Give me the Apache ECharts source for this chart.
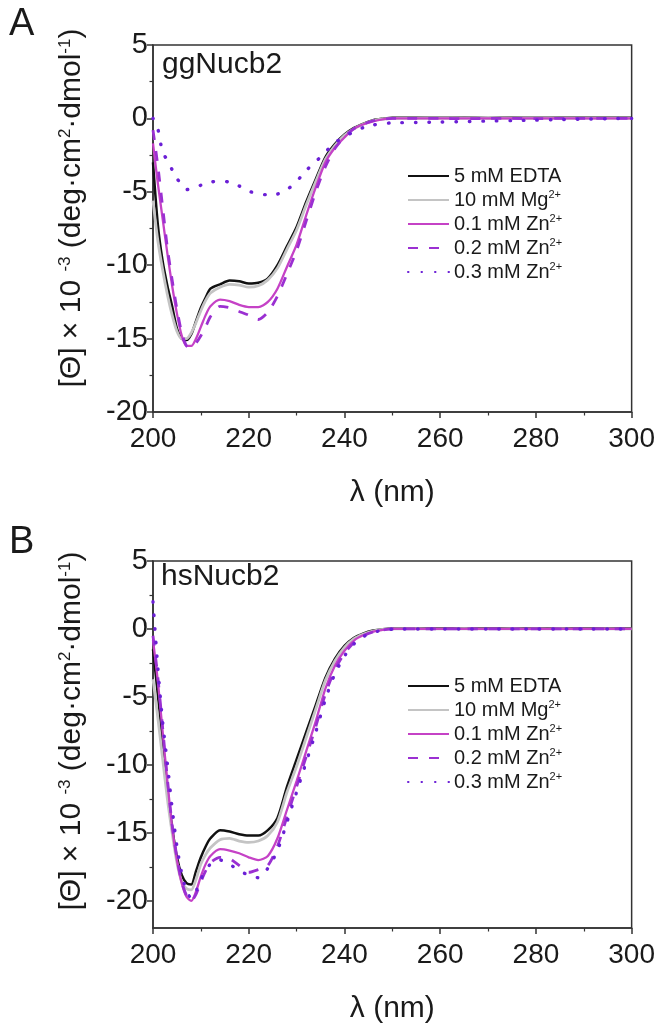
<!DOCTYPE html>
<html>
<head>
<meta charset="utf-8">
<script src="https://cdn.jsdelivr.net/npm/echarts@6/dist/echarts.min.js"></script>
<style>
html,body{margin:0;padding:0;background:#fff;}
#chart{width:658px;height:1025px;}
</style>
</head>
<body>
<div id="chart"></div>
<script>
// Wavelengths (nm)
const WL = [200,201,202,203,204,205,206,207,208,209,210,211,212,
  214,216,218,220,222,224,226,228,230,232,234,236,238,240,242,244,246,248,250,
  255,260,265,270,275,280,285,290,295,300];

const SERIES_NAMES = ['5 mM EDTA','10 mM Mg2+','0.1 mM Zn2+','0.2 mM Zn2+','0.3 mM Zn2+'];
const LEGEND_LABELS = ['5 mM EDTA','10 mM Mg{sup|2+}','0.1 mM Zn{sup|2+}','0.2 mM Zn{sup|2+}','0.3 mM Zn{sup|2+}'];
const X_TICKS = [200,220,240,260,280,300];
const Y_TICKS = [5,0,-5,-10,-15,-20];

// Panel A: ggNucb2
const A_EDTA = [-3.0,-7.2,-9.7,-11.4,-12.8,-14.3,-15.0,-15.1,-14.7,-13.8,-12.9,-12.2,-11.6,
  -11.3,-11.05,-11.1,-11.25,-11.2,-10.9,-10.0,-8.7,-7.4,-5.7,-4.15,-2.65,-1.75,-1.1,-0.65,-0.35,-0.12,-0.02,0.05,
  0.05,0.04,0.05,0.03,0.05,0.04,0.05,0.04,0.05,0.05];
const A_MG = [-5.6,-8.3,-10.3,-12.0,-13.4,-14.5,-15.0,-15.0,-14.6,-13.9,-13.1,-12.4,-11.9,
  -11.5,-11.3,-11.35,-11.5,-11.4,-11.0,-10.2,-8.9,-7.6,-5.9,-4.3,-2.8,-1.85,-1.15,-0.7,-0.38,-0.15,-0.04,0.0,
  0.0,0.02,0.0,0.02,0.0,0.02,0.0,0.0,0.0,0.0];
const A_ZN01 = [-1.7,-4.4,-6.8,-9.2,-11.4,-13.3,-14.8,-15.5,-15.5,-15.0,-14.2,-13.4,-12.8,
  -12.35,-12.45,-12.7,-12.85,-12.85,-12.5,-11.6,-10.1,-8.6,-6.6,-4.7,-3.0,-2.0,-1.3,-0.7,-0.4,-0.2,-0.07,0.0,
  0.0,0.0,0.0,0.0,0.0,0.0,0.0,0.0,0.0,0.0];
const A_ZN02 = [-0.8,-3.2,-6.0,-8.8,-11.0,-13.0,-14.6,-15.5,-15.6,-15.3,-14.8,-14.2,-13.5,
  -12.8,-12.9,-13.15,-13.4,-13.7,-13.2,-12.1,-10.6,-9.0,-7.0,-5.0,-3.3,-2.05,-1.25,-0.7,-0.38,-0.16,-0.05,0.0,
  0.0,0.0,-0.02,0.0,0.0,-0.02,0.0,0.0,0.0,0.0];
const A_ZN03 = [0.0,-0.7,-2.3,-2.85,-3.5,-4.1,-4.5,-4.85,-4.8,-4.7,-4.55,-4.45,-4.35,
  -4.25,-4.35,-4.6,-4.95,-5.15,-5.2,-5.15,-4.85,-4.3,-3.55,-2.95,-2.3,-1.65,-1.25,-0.9,-0.62,-0.45,-0.36,-0.3,
  -0.28,-0.25,-0.22,-0.18,-0.15,-0.12,-0.08,-0.05,-0.02,0.0];

// Panel B: hsNucb2
const B_EDTA = [-1.5,-4.8,-8.3,-11.8,-14.6,-16.8,-18.1,-18.7,-18.8,-17.8,-16.8,-16.0,-15.4,
  -14.8,-14.9,-15.1,-15.2,-15.2,-14.8,-13.9,-11.6,-9.6,-7.6,-5.6,-3.6,-2.2,-1.25,-0.65,-0.32,-0.12,-0.02,0.03,
  0.05,0.05,0.04,0.05,0.05,0.04,0.05,0.05,0.04,0.05];
const B_MG = [-3.7,-6.5,-9.5,-12.5,-15.0,-17.2,-18.6,-19.1,-19.2,-18.4,-17.3,-16.6,-16.1,
  -15.5,-15.4,-15.6,-15.7,-15.6,-15.2,-14.2,-12.0,-10.1,-8.0,-5.9,-3.8,-2.35,-1.35,-0.72,-0.38,-0.15,-0.04,0.0,
  0.02,0.0,0.02,0.0,0.02,0.0,0.02,0.0,0.0,0.0];
const B_ZN01 = [-0.8,-3.8,-7.5,-11.2,-14.6,-17.0,-18.7,-19.7,-20.0,-19.3,-18.2,-17.3,-16.7,
  -16.2,-16.3,-16.5,-16.8,-17.0,-16.7,-15.4,-13.3,-11.2,-9.0,-6.8,-4.4,-2.7,-1.6,-0.85,-0.45,-0.2,-0.06,0.0,
  0.0,0.0,0.0,0.0,0.0,0.0,0.0,0.0,0.0,0.0];
const B_ZN02 = [-0.5,-3.5,-7.2,-11.0,-14.4,-16.8,-18.6,-19.6,-20.0,-19.5,-18.6,-17.8,-17.2,
  -16.8,-16.9,-17.4,-17.9,-17.7,-17.4,-16.0,-13.8,-11.6,-9.4,-7.2,-4.8,-3.0,-1.8,-1.0,-0.5,-0.22,-0.08,0.0,
  0.0,0.0,0.0,0.0,0.0,0.0,0.0,0.0,0.0,0.0];
const B_ZN03 = [2.0,-2.8,-6.8,-9.9,-13.2,-16.0,-18.0,-19.3,-19.8,-19.3,-18.4,-17.8,-17.3,
  -17.0,-17.3,-17.8,-18.1,-18.3,-17.6,-16.3,-14.2,-12.0,-9.8,-7.6,-5.2,-3.3,-2.0,-1.1,-0.55,-0.25,-0.1,-0.02,
  0.0,0.0,0.0,0.0,0.0,0.0,0.0,0.0,0.0,0.0];

const FONT = "'Liberation Sans', Arial, sans-serif";
const AXIS_COLOR = '#333';
const TEXT_COLOR = '#1a1a1a';

const STYLES = [
  {color:'#111111', width:2.5, type:'solid', cap:'butt'},
  {color:'#c4c4c4', width:2.8, type:'solid', cap:'butt'},
  {color:'#c542c6', width:2.3, type:'solid', cap:'butt'},
  {color:'#9b30d2', width:2.8, type:[10,11], cap:'butt'},
  {color:'#6b1fd6', width:3.4, type:[0.5,13], cap:'round'}
];

const chart = echarts.init(document.getElementById('chart'), null, {renderer:'canvas'});

function xAxisDef(gridIndex){
  return {
    type:'value', gridIndex, min:200, max:300, interval:20,
    name:'λ (nm)', nameLocation:'middle', nameGap:66,
    nameTextStyle:{fontFamily:FONT, fontSize:30, color:TEXT_COLOR},
    axisLine:{show:true, onZero:false, lineStyle:{color:AXIS_COLOR, width:1.5}},
    axisTick:{show:true, length:6, lineStyle:{color:AXIS_COLOR, width:1.5}},
    minorTick:{show:true, splitNumber:2, length:3.5, lineStyle:{color:AXIS_COLOR, width:1.2}},
    axisLabel:{fontFamily:FONT, fontSize:28, color:TEXT_COLOR, margin:13, showMinLabel:true, showMaxLabel:true},
    splitLine:{show:false}
  };
}

const seriesList = [];
function addPanel(arrs, xi, yi){
  arrs.forEach((vals, k) => {
    seriesList.push({
      type:'line', name:SERIES_NAMES[k], xAxisIndex:xi, yAxisIndex:yi,
      data: WL.map((w,i) => [w, vals[i]]),
      symbol:'none', showSymbol:false, smooth:0.25,
      lineStyle:{color:STYLES[k].color, width:STYLES[k].width, type:STYLES[k].type, cap:STYLES[k].cap},
      itemStyle:{color:STYLES[k].color},
      animation:false
    });
  });
}
addPanel([A_EDTA, A_MG, A_ZN01, A_ZN02, A_ZN03], 0, 0);
addPanel([B_EDTA, B_MG, B_ZN01, B_ZN02, B_ZN03], 1, 1);

const legendRich = {
  n:{fontFamily:FONT, fontSize:20, color:TEXT_COLOR, lineHeight:22},
  sup:{fontFamily:FONT, fontSize:11, color:TEXT_COLOR, lineHeight:11, verticalAlign:'top'}
};
function legendDef(top){
  return {
    orient:'vertical', left:407, top, padding:0, itemGap:3,
    itemWidth:41, itemHeight:14, selectedMode:false,
    itemStyle:{opacity:0},
    data: SERIES_NAMES,
    formatter: name => {
      const lbl = LEGEND_LABELS[SERIES_NAMES.indexOf(name)];
      return lbl.replace(/^([^{]+)/, '{n|$1}');
    },
    textStyle:{fontFamily:FONT, fontSize:20, color:TEXT_COLOR, rich:legendRich}
  };
}

const yTitle = '[Θ] × 10 {sup|-3} (deg·cm{sup|2}·dmol{sup|-1})';
const yRich = {
  sup:{fontFamily:FONT, fontSize:17, fill:TEXT_COLOR, lineHeight:17, verticalAlign:'top'}
};

const yLabel = {fontFamily:FONT, fontSize:29, color:TEXT_COLOR, margin:5};

const option = {
  backgroundColor:'#ffffff',
  animation:false,
  title:[
    {text:'A', left:9, top:6, padding:0, textStyle:{fontFamily:FONT, fontSize:38, fontWeight:'normal', color:TEXT_COLOR}},
    {text:'B', left:9, top:524, padding:0, textStyle:{fontFamily:FONT, fontSize:38, fontWeight:'normal', color:TEXT_COLOR}},
    {text:'ggNucb2', left:162, top:50, padding:0, textStyle:{fontFamily:FONT, fontSize:30, fontWeight:'normal', color:TEXT_COLOR}},
    {text:'hsNucb2', left:161, top:562, padding:0, textStyle:{fontFamily:FONT, fontSize:30, fontWeight:'normal', color:TEXT_COLOR}}
  ],
  grid:[
    {left:153, top:45, width:484, height:367, show:true, borderColor:AXIS_COLOR, borderWidth:1.5, backgroundColor:'transparent'},
    {left:153, top:561, width:484, height:369, show:true, borderColor:AXIS_COLOR, borderWidth:1.5, backgroundColor:'transparent'}
  ],
  xAxis:[xAxisDef(0), xAxisDef(1)],
  yAxis:[
    {
      type:'value', gridIndex:0, min:-20, max:5, interval:5,
      axisLine:{show:true, onZero:false, lineStyle:{color:AXIS_COLOR, width:1.5}},
      axisTick:{show:true, length:6, lineStyle:{color:AXIS_COLOR, width:1.5}},
      minorTick:{show:true, splitNumber:2, length:3.5, lineStyle:{color:AXIS_COLOR, width:1.2}},
      axisLabel:Object.assign({showMinLabel:true, showMaxLabel:true}, yLabel),
      splitLine:{show:false}
    },
    {
      type:'value', gridIndex:1, min:-22, max:5,
      axisLine:{show:true, onZero:false, lineStyle:{color:AXIS_COLOR, width:1.5}},
      axisTick:{show:true, length:6, customValues:Y_TICKS, lineStyle:{color:AXIS_COLOR, width:1.5}},
      axisLabel:Object.assign({customValues:Y_TICKS}, yLabel),
      splitLine:{show:false}
    },
    {
      type:'value', gridIndex:1, min:-22, max:5, position:'left',
      axisLine:{show:false},
      axisTick:{show:true, length:3.5, customValues:[2.5,-2.5,-7.5,-12.5,-17.5], lineStyle:{color:AXIS_COLOR, width:1.2}},
      axisLabel:{show:false},
      splitLine:{show:false}
    }
  ],
  legend:[legendDef(166), legendDef(676)],
  graphic:[
    {type:'text', x:72, y:208, rotation:Math.PI/2,
     style:{text:yTitle, fontFamily:FONT, fontSize:30, fill:TEXT_COLOR, align:'center', verticalAlign:'middle', rich:yRich}},
    {type:'text', x:72, y:731, rotation:Math.PI/2,
     style:{text:yTitle, fontFamily:FONT, fontSize:30, fill:TEXT_COLOR, align:'center', verticalAlign:'middle', rich:yRich}}
  ],
  series:seriesList
};
chart.setOption(option);
</script>
</body>
</html>
